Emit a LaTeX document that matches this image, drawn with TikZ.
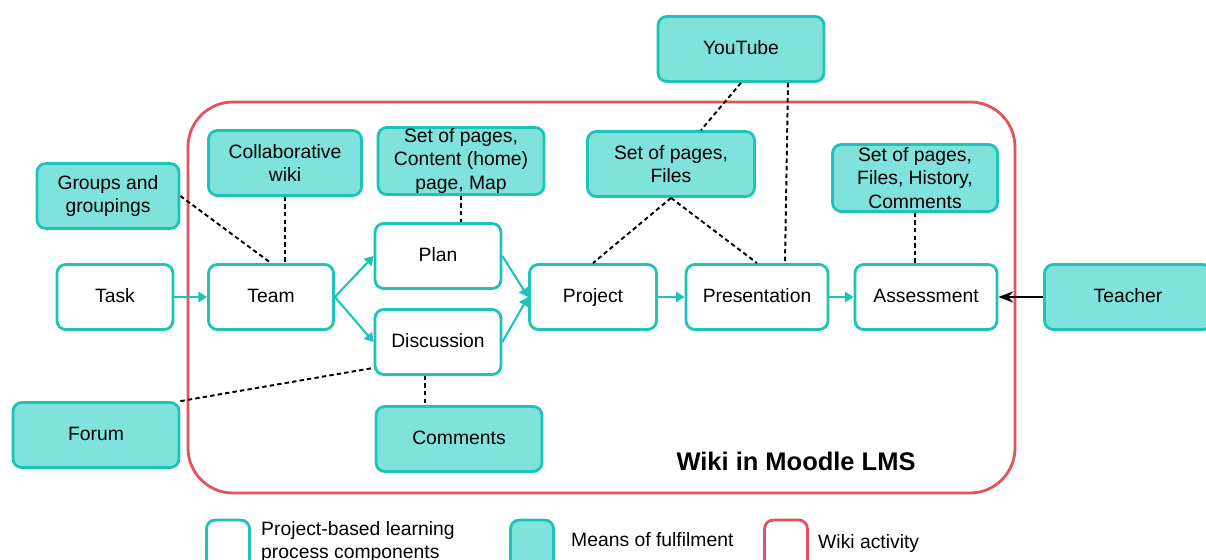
\documentclass[tikz,border=0pt]{standalone}
\usepackage{fontspec}
\setmainfont{Liberation Sans}
\usetikzlibrary{arrows.meta}
\definecolor{tealline}{HTML}{1CC4B8}
\definecolor{tealfill}{HTML}{80E2DC}
\definecolor{wikired}{HTML}{E4525E}
\begin{document}
\begin{tikzpicture}[x=0.02cm,y=-0.02cm,>=Stealth, line join=round,
	font=\fontsize{11}{13.3}\selectfont,
	comp/.style={draw=tealline,line width=1.6pt,fill=white,rounded corners=5pt,align=center,inner sep=0pt,minimum height=1.3cm},
	means/.style={comp,fill=tealfill},
	oneline/.style={text height=1.6ex,text depth=0.4ex},
	flow/.style={draw=tealline,line width=1.2pt,-{Triangle[length=5pt,width=6pt]}},
	link/.style={draw=black,line width=1.1pt,dash pattern=on 2.5pt off 1.8pt}]
	\clip (0,0) rectangle (1206,560);
	% wiki frame
	\draw[wikired,line width=1.6pt,rounded corners=0.9cm] (188,102) rectangle (1015,493);
	\node[font=\fontsize{14.5}{16}\selectfont\bfseries] (lms) at (796,461) {Wiki in Moodle LMS};
	% process components
	\node[comp,oneline,minimum width=2.32cm] (task) at (115,297) {Task};
	\node[comp,oneline,minimum width=2.5cm] (team) at (271,297) {Team};
	\node[comp,oneline,minimum width=2.52cm] (plan) at (438,256) {Plan};
	\node[comp,oneline,minimum width=2.52cm] (disc) at (438,342) {Discussion};
	\node[comp,oneline,minimum width=2.54cm] (proj) at (593,297) {Project};
	\node[comp,oneline,minimum width=2.84cm] (pres) at (757,297) {Presentation};
	\node[comp,oneline,minimum width=2.84cm] (asmt) at (926,297) {Assessment};
	% means of fulfilment
	\node[means,oneline,minimum width=3.32cm] (yt) at (741,49) {YouTube};
	\node[means,minimum width=2.84cm] (groups) at (108,196) {Groups and\\groupings};
	\node[means,minimum width=3.06cm] (collab) at (285,163) {Collaborative\\wiki};
	\node[means,minimum width=3.32cm,minimum height=1.34cm] (pages) at (461,161) {Set of pages,\\Content (home)\\page, Map};
	\node[means,minimum width=3.34cm] (files) at (671,164) {Set of pages,\\Files};
	\node[means,minimum width=3.3cm,minimum height=1.34cm] (hist) at (915,178) {Set of pages,\\Files, History,\\Comments};
	\node[means,oneline,minimum width=3.34cm] (teacher) at (1128,297) {Teacher};
	\node[means,oneline,minimum width=3.32cm] (forum) at (96,435) {Forum};
	\node[means,oneline,minimum width=3.32cm] (comm) at (459,439) {Comments};
	% flow
	\draw[flow] (task) -- (team);
	\draw[flow] (team.east) -- (plan.west);
	\draw[flow] (team.east) -- (disc.west);
	\draw[flow] (plan.east) -- (proj.west);
	\draw[flow] (disc.east) -- (proj.west);
	\draw[flow] (proj) -- (pres);
	\draw[flow] (pres) -- (asmt);
	\draw[->,line width=1.2pt] (teacher) -- (asmt);
	% links
	\draw[link] (groups.east) -- (team.north);
	\draw[link] (collab.south) -- (collab.south |- team.north);
	\draw[link] (pages.south) -- (pages.south |- plan.north);
	\draw[link] (yt.south) -- ([xshift=0.6cm]files.north);
	\draw[link] ([xshift=0.94cm]yt.south) -- ([xshift=0.56cm]pres.north);
	\draw[link] (files.south) -- (proj.north);
	\draw[link] (files.south) -- (pres.north);
	\draw[link] (hist.south) -- (hist.south |- asmt.north);
	\draw[link] ([xshift=-0.26cm]disc.south) -- ([xshift=-0.26cm]disc.south |- comm.north);
	\draw[link] (forum.north east) -- ([yshift=0.16cm]disc.south west);
	% legend
	\node[comp,minimum width=0.86cm,minimum height=1.2cm] (keycomp) at (228,550) {};
	\node[anchor=west,align=left] (txtcomp) at (255,542) {Project-based learning\\process components};
	\node[means,minimum width=0.86cm,minimum height=1.2cm] (keymeans) at (532,550) {};
	\node[anchor=west] (txtmeans) at (565,540) {Means of fulfilment};
	\node[draw=wikired,line width=1.6pt,rounded corners=5pt,minimum width=0.86cm,minimum height=1.2cm] (keywiki) at (786,550) {};
	\node[anchor=west] (txtwiki) at (812,543) {Wiki activity};
\end{tikzpicture}
\end{document}
